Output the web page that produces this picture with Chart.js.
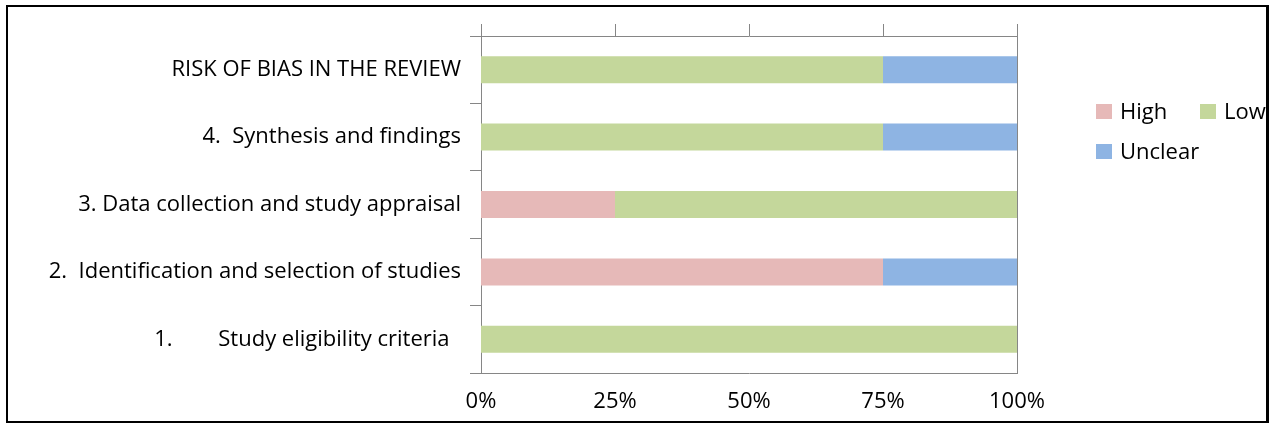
<!DOCTYPE html>
<html>
<head>
<meta charset="utf-8">
<script src="https://cdn.jsdelivr.net/npm/chart.js@4.4.0/dist/chart.umd.min.js"></script>
<style>
  html, body { margin: 0; padding: 0; background: #fff; }
  #wrap { position: relative; width: 1271px; height: 424px; overflow: hidden; }
  #frame { position: absolute; left: 6px; top: 5px; width: 1263px; height: 418px; border: 2px solid #000; border-right-width: 3px; box-sizing: border-box; pointer-events: none; }
  #legend { position: absolute; left: 1096px; top: 95px; width: 170px; overflow: hidden; font-family: "Open Sans", sans-serif; font-size: 22px; line-height: 30px; color: #000; display: grid; grid-template-columns: 104px 104px; }
  .item { height: 40px; display: flex; align-items: flex-start; white-space: nowrap; }
  .box { width: 16px; height: 15px; margin-top: 9px; margin-right: 8px; flex: none; }
</style>
</head>
<body>
<div id="wrap">
  <canvas id="riskChart" width="1271" height="424"></canvas>
  <div id="legend"></div>
  <div id="frame"></div>
</div>
<script>
// data ===========
const categories = [
  "RISK OF BIAS IN THE REVIEW",
  "4.  Synthesis and findings",
  "3. Data collection and study appraisal",
  "2.  Identification and selection of studies",
  "1.        Study eligibility criteria  ",
];
const high = [0, 0, 25, 75, 0];
const low = [75, 75, 75, 0, 100];
const unclear = [25, 25, 0, 25, 0];
const percentTicks = [0, 25, 50, 75, 100];

const axisGray = "#868686";
const font = { family: "Open Sans", size: 22 };

// chart ===========
const ctx = document.getElementById("riskChart").getContext("2d");
const riskChart = new Chart(ctx, {
  type: "bar",
  data: {
    labels: categories,
    datasets: [
      { label: "High", data: high, backgroundColor: "#E6B9B8" },
      { label: "Low", data: low, backgroundColor: "#C4D79B" },
      { label: "Unclear", data: unclear, backgroundColor: "#8EB4E3" },
    ],
  },
  options: {
    indexAxis: "y",
    responsive: false,
    animation: false,
    barPercentage: 0.4,
    categoryPercentage: 1,
    layout: { padding: { left: 0, top: 24, right: 254, bottom: 0 } },
    plugins: { legend: { display: false }, tooltip: { enabled: false } },
    scales: {
      y: {
        stacked: true,
        grid: { offset: true, drawOnChartArea: false, tickLength: 11, color: axisGray },
        border: { color: axisGray },
        ticks: { color: "#000", font: font, padding: 9 },
        afterFit: (s) => { s.width = 481; },
      },
      x: {
        stacked: true,
        min: 0,
        max: 100,
        position: "bottom",
        afterBuildTicks: (s) => { s.ticks = percentTicks.map((v) => ({ value: v })); },
        ticks: { color: "#000", font: font, padding: 16, callback: (v) => v + "%" },
        grid: { display: false, drawTicks: false },
        border: { color: axisGray },
        afterFit: (s) => { s.height = 51; },
      },
      x2: {
        type: "linear",
        min: 0,
        max: 100,
        position: "top",
        afterBuildTicks: (s) => { s.ticks = percentTicks.map((v) => ({ value: v })); },
        ticks: { display: false },
        grid: {
          tickLength: 12,
          tickColor: axisGray,
          color: (c) => (c.tick && c.tick.value === 100 ? axisGray : "transparent"),
        },
        border: { color: axisGray },
        afterFit: (s) => { s.height = 12; },
      },
    },
  },
});

// legend ===========
const legend = document.getElementById("legend");
riskChart.data.datasets.forEach((ds) => {
  const item = document.createElement("div");
  item.className = "item";
  const box = document.createElement("span");
  box.className = "box";
  box.style.background = ds.backgroundColor;
  const txt = document.createElement("span");
  txt.textContent = ds.label;
  item.appendChild(box);
  item.appendChild(txt);
  legend.appendChild(item);
});
</script>
</body>
</html>
